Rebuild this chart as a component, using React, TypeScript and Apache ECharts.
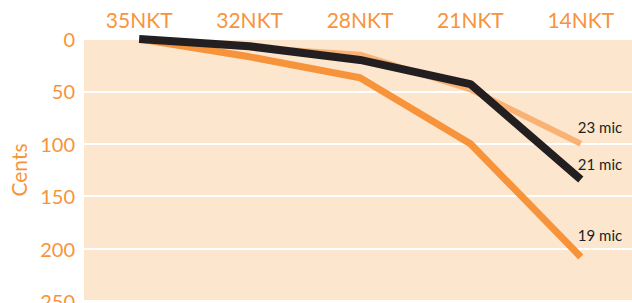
import React, { useEffect, useRef } from "react";
import * as echarts from "echarts";

const categories = ["35NKT", "32NKT", "28NKT", "21NKT", "14NKT"];
const mic23 = [0, 8, 15, 48, 100];
const mic21 = [0, 7, 20, 43, 134];
const mic19 = [0, 17, 37, 100, 208];
const yTicks = [0, 50, 100, 150, 200, 250];

const ORANGE = "#F7943B";
const LIGHT = "#F9B274";
const BLACK = "#231F20";
const FONT = "Lato";

export default function App() {
  const ref = useRef<HTMLDivElement>(null);
  useEffect(() => {
    document.body.style.margin = "0";
    const chart = echarts.init(ref.current!, null, { renderer: "svg" });
    const endLabel = (text: string, dy: number) => ({
      show: true,
      formatter: text,
      distance: 0,
      offset: [-3, dy],
      color: BLACK,
      fontFamily: FONT,
      fontSize: 15,
    });
    chart.setOption({
      animation: false,
      grid: {
        left: 84,
        right: -4,
        top: 39,
        bottom: 2,
        show: true,
        backgroundColor: "#FDE6CE",
        borderWidth: 0,
        outerBoundsMode: "none",
        containLabel: false,
      },
      xAxis: {
        type: "category",
        data: categories,
        position: "top",
        boundaryGap: true,
        axisLine: { show: false },
        axisTick: { show: false },
        axisLabel: { color: ORANGE, fontFamily: FONT, fontSize: 21, margin: 9 },
        splitLine: { show: false },
      },
      yAxis: {
        type: "value",
        inverse: true,
        min: yTicks[0],
        max: yTicks[yTicks.length - 1],
        interval: 50,
        name: "Cents",
        nameLocation: "middle",
        nameGap: 52,
        nameTextStyle: { color: ORANGE, fontFamily: FONT, fontSize: 21 },
        axisLine: { show: false },
        axisTick: { show: false },
        axisLabel: { color: ORANGE, fontFamily: FONT, fontSize: 20, margin: 9 },
        splitLine: { show: true, lineStyle: { color: "#ffffff", width: 2 } },
      },
      series: [
        {
          name: "23 mic",
          type: "line",
          data: mic23,
          symbol: "none",
          endLabel: endLabel("23 mic", -17),
          lineStyle: { color: LIGHT, width: 6, cap: "butt" },
          z: 1,
        },
        {
          name: "19 mic",
          type: "line",
          data: mic19,
          symbol: "none",
          endLabel: endLabel("19 mic", -22),
          lineStyle: { color: ORANGE, width: 7, cap: "butt" },
          z: 2,
        },
        {
          name: "21 mic",
          type: "line",
          data: mic21,
          symbol: "none",
          endLabel: endLabel("21 mic", -15),
          lineStyle: { color: BLACK, width: 8, cap: "butt" },
          z: 3,
        },
      ],
    });
    return () => chart.dispose();
  }, []);
  return <div ref={ref} style={{ width: 632, height: 303 }} />;
}
